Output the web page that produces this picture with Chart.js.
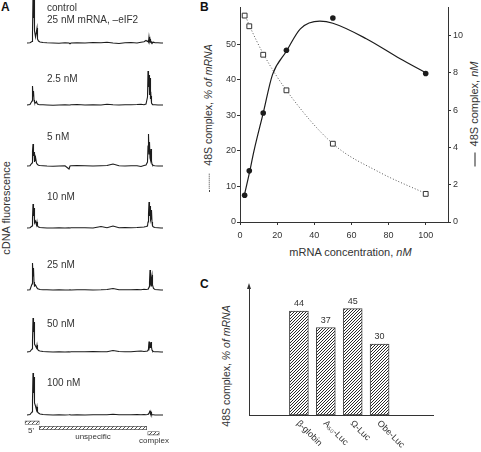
<!DOCTYPE html>
<html><head><meta charset="utf-8">
<script src="https://cdn.jsdelivr.net/npm/chart.js@4"></script>
<style>
html,body{margin:0;padding:0;background:#fff;}
#wrap{position:relative;width:481px;height:452px;overflow:hidden;font-family:"Liberation Sans",Arial,sans-serif;color:#333;}
canvas{position:absolute;}
.t{position:absolute;white-space:nowrap;line-height:1;}
.c{transform:translate(-50%,-50%);}
.rot{transform:translate(-50%,-50%) rotate(-90deg);}
.dots{display:inline-block;width:18px;height:0;border-top:1px dotted #444;vertical-align:middle;margin-right:8px;}
.solid{display:inline-block;width:14px;height:0;border-top:1.5px solid #222;vertical-align:middle;margin-right:6px;}
b.p{position:absolute;font-size:12px;line-height:1;color:#111;}
</style></head>
<body><div id="wrap">
<b class="p" style="left:1px;top:1px">A</b>
<b class="p" style="left:200px;top:1px">B</b>
<b class="p" style="left:200px;top:278px">C</b>
<div class="t rot" style="left:5.5px;top:208px;font-size:11px">cDNA fluorescence</div>
<div class="t rot" style="left:207.5px;top:118px;font-size:10.5px"><span class="dots"></span>48S complex, <i>% of mRNA</i></div>
<div class="t rot" style="left:474px;top:113.5px;font-size:11px"><span class="solid"></span>48S complex, <i>nM</i></div>
<div class="t c" style="left:350.5px;top:251.5px;font-size:11px">mRNA concentration, <i>nM</i></div>
<div class="t rot" style="left:226px;top:366px;font-size:10.5px">48S complex, <i>% of mRNA</i></div>
</div>
<script>
const FAMILY = '"Liberation Sans", Arial, sans-serif';
Chart.defaults.font.family = FAMILY;
Chart.defaults.color = '#333';

// ---------- Panel A data ----------
const traceX = [0,3,5,5.5,6,6.5,7,7.5,8.5,9.5,10,10.5,11.5,13,16,20,26,32,38,42,43,44,50,58,66,74,80,86,92,98,104,110,114,117,119,120.5,121,121.5,122,122.5,123,123.5,124,124.5,125,125.5,126.5,128,131,134,136];
const traceLabels = ['control\n25 nM mRNA, \u2013eIF2','2.5 nM','5 nM','10 nM','25 nM','50 nM','100 nM'];
const trControl = [0,0.3,1.5,10,48,25,47,12,6,12,15,4,2,1,0.5,0.2,0,-0.3,0.3,0,-0.8,0,0.3,0,0.5,0.3,0.8,0,-0.5,0.2,0.5,0,0.8,1.2,2.5,1.5,2,1,6,2,4,1,1.5,0.5,1,0.3,0.8,0.3,0.3,0,0];
const tr2_5 = [0,0.5,4,19,9,14,5,3,2,3.5,1.5,1,0.5,0.3,0.2,0,-0.3,0,0.3,0,0,0.2,0.5,0,0.3,0,0.8,0.2,0,0.3,0.2,0.5,0.8,0.3,1,8,34,18,30,10,27,6,9,2,1,0.5,0.3,0.3,0,0,0];
const tr5 = [0,0.3,3,15,22,10,14,4,9,3,2,1.5,0.8,0.5,0.3,0,-0.3,0,0.2,-3,0,0.2,0.5,0.3,0,0.3,0.5,2,0.3,0,0.3,0.2,-0.5,0.5,1,4,20,32,12,24,8,6,17,5,2,1,0.5,0.3,0,0,0];
const tr10 = [0,0.3,2,10,24,12,20,5,7,3,6,2,1,0.5,0.3,0,0,0.2,0,0.2,0,0.3,0.2,0.3,0,1.5,0.3,2,0.3,0.5,0.2,0.5,0.8,1,1.5,2,6,14,26,12,22,8,10,18,6,2,1,0.5,0.3,0,0];
const tr25 = [0,0.3,6,27,14,22,8,4,5,3,2,1.5,1,0.5,0.3,0.2,0,0.2,0,0,0.3,0,0.2,0.3,0,0.2,0.5,1.5,0.3,0.2,0.3,0.5,0.3,0.8,0.5,0.8,1,1.5,3,8,20,6,4,12,15,5,1.5,0.5,0.3,0,0];
const tr50 = [0,0.5,3,12,34,20,30,8,6,4,7,3,1.5,1,0.5,0.3,0,0.2,0,0.3,0,0.2,0.3,0.2,0.5,0.2,0.3,1.5,0.5,0.3,0.2,0.8,1,0.5,0.8,1,2,4,10.5,5,7,4,10,5,2,1,0.5,0.3,0.2,0,0];
const tr100 = [0,0.5,3,15,42,22,38,12,9,5,8,3,2,1,0.5,0.3,0,0.2,0,0.2,0.3,0,0.2,0,0.3,0.2,0.3,0.8,0.3,0.2,0.3,0.5,0.3,0.5,0.3,0.5,0.8,1,2,3,4,2,3,1,0.5,0.3,0.2,0,0,0,0];
const traces = [trControl,tr2_5,tr5,tr10,tr25,tr50,tr100];
const regionNames = ["5'", 'unspecific', 'complex'];
const regionSpans = [[-2,12.3],[12.3,119.7],[120.7,132.3]];

// ---------- Panel B data ----------
const concX = [2.5,5,12.5,25,50,100];
const pctOfMRNA = [58,55,47,37,22,7.9];
const complexNM = [1.43,2.74,5.84,9.2,10.93,7.96];
const fitPctX = [2.5,5,12.5,25,50,75,100];
const fitPct = [58.5,55.3,47.3,37,22,14,8];
const fitNMX = [2.5,5,7.5,12.5,17.5,25,32.5,43,50,68,86,100];
const fitNM = [1.5,2.6,3.8,5.84,7.9,9.15,10.35,10.76,10.65,9.82,8.76,8.0];
const xTicksB = [0,20,40,60,80,100];
const leftTicksB = [0,10,20,30,40,50];
const rightTicksB = [0,2,4,6,8,10];

// ---------- Panel C data ----------
const constructs = ['\u03B2-globin','A\u2085\u2080-Luc','\u03A9-Luc','Obe-Luc'];
const pct48S = [44,37,45,30];

// ---------- helpers ----------
const wrap = document.getElementById('wrap');
function mkCanvas(left, top, w, h){
  const c = document.createElement('canvas');
  c.width = w; c.height = h;
  c.style.left = left+'px'; c.style.top = top+'px';
  c.style.width = w+'px'; c.style.height = h+'px';
  wrap.appendChild(c);
  return c;
}
function mkText(txt, left, top, size, center){
  const d = document.createElement('div');
  d.className = 't' + (center ? ' c' : '');
  d.style.left = left+'px'; d.style.top = top+'px'; d.style.fontSize = size+'px';
  d.textContent = txt;
  wrap.appendChild(d);
}
function hatch(ctx, color, n){
  const t = document.createElement('canvas'); t.width = n; t.height = n;
  const g = t.getContext('2d');
  g.fillStyle = '#fff'; g.fillRect(0,0,n,n);
  g.strokeStyle = color; g.lineWidth = 1;
  g.beginPath();
  g.moveTo(0,n); g.lineTo(n,0);
  g.moveTo(-1,1); g.lineTo(1,-1);
  g.moveTo(n-1,n+1); g.lineTo(n+1,n-1);
  g.stroke();
  return ctx.createPattern(t, 'repeat');
}
const baseOpts = {responsive:false, animation:false, events:[], plugins:{legend:{display:false}, tooltip:{enabled:false}}};

// ---------- Panel A ----------
const baselines = [42.7,105,165.7,227.7,290,351.7,415];
const labelTops = [3,74,132,191.7,260,319,377.7];
traces.forEach((ys, k) => {
  const cv = mkCanvas(20, baselines[k]-45, 143, 49);
  new Chart(cv, {
    type:'line',
    data:{datasets:[{data: traceX.map((x,i)=>({x, y: ys[i]})), borderColor:'#1c1c1c', borderWidth:1.1, pointRadius:0, tension:0}]},
    options:Object.assign({}, baseOpts, {
      layout:{padding:0},
      scales:{x:{type:'linear', display:false, min:-7, max:136}, y:{type:'linear', display:false, min:-4, max:45}}
    })
  });
  const lines = traceLabels[k].split('\n');
  lines.forEach((ln, j) => mkText(ln, 47, labelTops[k] + j*12, 10, false));
});
// region ruler
{
  const cv = mkCanvas(20, 420, 143, 16);
  const ctx = cv.getContext('2d');
  new Chart(cv, {
    type:'bar',
    data:{labels: regionNames, datasets:[{data: regionSpans, backgroundColor: hatch(ctx,'#555',4), borderColor:'#555', borderWidth:0.8, borderSkipped:false, barThickness:3.5}]},
    options:Object.assign({}, baseOpts, {
      indexAxis:'y', layout:{padding:0},
      scales:{x:{type:'linear', display:false, min:-7, max:136}, y:{display:false}}
    })
  });
  mkText(regionNames[0], 28, 426.5, 8, false);
  mkText(regionNames[1], 93, 436.7, 8, true);
  mkText(regionNames[2], 154, 440.7, 8, true);
}

// ---------- Panel B ----------
{
  const cv = mkCanvas(200, 0, 281, 250);
  const tickFont = {size:9, family:FAMILY};
  const gridOpt = {drawOnChartArea:false, drawTicks:true, tickLength:3, color:'#333', lineWidth:1};
  new Chart(cv, {
    type:'scatter',
    data:{datasets:[
      {data: concX.map((x,i)=>({x, y:pctOfMRNA[i]})), yAxisID:'yL', pointStyle:'rect', pointRadius:3.4, backgroundColor:'#fff', borderColor:'#333', borderWidth:1},
      {data: concX.map((x,i)=>({x, y:complexNM[i]})), yAxisID:'yR', pointStyle:'circle', pointRadius:2.8, backgroundColor:'#1c1c1c', borderColor:'#1c1c1c', borderWidth:0},
      {data: fitPctX.map((x,i)=>({x, y:fitPct[i]})), yAxisID:'yL', showLine:true, pointRadius:0, borderColor:'#555', borderWidth:1, borderDash:[1,2], cubicInterpolationMode:'monotone'},
      {data: fitNMX.map((x,i)=>({x, y:fitNM[i]})), yAxisID:'yR', showLine:true, pointRadius:0, borderColor:'#1c1c1c', borderWidth:1.2, cubicInterpolationMode:'monotone'}
    ]},
    options:Object.assign({}, baseOpts, {
      layout:{padding:{top:5, left:0, right:0, bottom:0}},
      scales:{
        x:{type:'linear', position:'bottom', min:0, max:112,
           afterFit:s=>{s.height=28;}, afterBuildTicks:s=>{s.ticks = xTicksB.map(v=>({value:v}));},
           ticks:{font:tickFont, color:'#333', padding:5, maxRotation:0, minRotation:0},
           grid:gridOpt, border:{display:true, color:'#333', width:1}},
        yL:{type:'linear', position:'left', min:0, max:60.3,
           afterFit:s=>{s.width=40;}, afterBuildTicks:s=>{s.ticks = leftTicksB.map(v=>({value:v}));},
           ticks:{font:tickFont, color:'#333', padding:1},
           grid:gridOpt, border:{display:true, color:'#333', width:1}},
        yR:{type:'linear', position:'right', min:0, max:11.5,
           afterFit:s=>{s.width=33;}, afterBuildTicks:s=>{s.ticks = rightTicksB.map(v=>({value:v}));},
           ticks:{font:tickFont, color:'#333', padding:2},
           grid:gridOpt, border:{display:true, color:'#333', width:1}}
      }
    })
  });
}

// ---------- Panel C ----------
{
  const cv = mkCanvas(235, 278, 246, 174);
  const ctx = cv.getContext('2d');
  const cPlugin = {
    id:'cLabels',
    afterDraw(chart){
      const c = chart.ctx, xs = chart.scales.x, area = chart.chartArea;
      const meta = chart.getDatasetMeta(0);
      c.save();
      c.fillStyle = '#333';
      c.font = '9px ' + FAMILY;
      c.textAlign = 'center'; c.textBaseline = 'alphabetic';
      meta.data.forEach((b,i)=>{ c.fillText(String(pct48S[i]), b.x, b.y-5); });
      c.textAlign = 'left'; c.textBaseline = 'middle';
      constructs.forEach((lab,i)=>{
        const px = xs.getPixelForValue(i+1);
        c.save(); c.translate(px-1, area.bottom+7); c.rotate(Math.PI/4); c.fillText(lab, 0, 0); c.restore();
      });
      c.fillStyle = '#333';
      c.beginPath(); c.moveTo(area.left, area.top-6); c.lineTo(area.left-2, area.top); c.lineTo(area.left+2, area.top); c.closePath(); c.fill();
      c.restore();
    }
  };
  new Chart(cv, {
    type:'bar',
    data:{datasets:[{data: constructs.map((c,i)=>({x:i+1, y:pct48S[i]})), backgroundColor: hatch(ctx,'#2a2a2a',3), borderColor:'#444', borderWidth:1, borderSkipped:false, barThickness:19}]},
    options:Object.assign({}, baseOpts, {
      layout:{padding:{left:14, top:11, right:48, bottom:37}},
      scales:{
        x:{type:'linear', min:0, max:5.13, afterFit:s=>{s.height=0;}, ticks:{display:false}, grid:{display:false}, border:{display:true, color:'#333', width:1}},
        y:{type:'linear', min:0, max:53.3, afterFit:s=>{s.width=0;}, ticks:{display:false}, grid:{display:false}, border:{display:true, color:'#333', width:1}}
      }
    }),
    plugins:[cPlugin]
  });
}
</script>
</body></html>
